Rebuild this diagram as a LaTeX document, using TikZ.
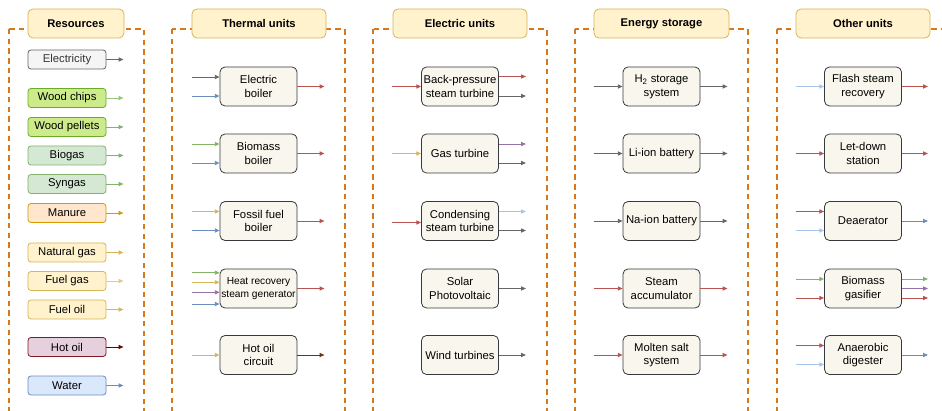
\documentclass[tikz,border=0pt]{standalone}
\usepackage{fontspec}
\setmainfont{Liberation Sans}
\usetikzlibrary{arrows.meta}

% palette
\definecolor{grpline}{HTML}{D9771A}
\definecolor{hdrfill}{HTML}{FFF2CC}
\definecolor{hdrline}{HTML}{D6B656}
\definecolor{unitfill}{HTML}{F9F7ED}
\definecolor{unitline}{HTML}{36393D}
\definecolor{cgray}{HTML}{666666}
\definecolor{cgrayfill}{HTML}{F5F5F5}
\definecolor{cwoodfill}{HTML}{CDEB8B}
\definecolor{cwoodline}{HTML}{6AAB2A}
\definecolor{cwoodarr}{HTML}{97C77A}
\definecolor{cgreenfill}{HTML}{D5E8D4}
\definecolor{cgreen}{HTML}{82B366}
\definecolor{cmanfill}{HTML}{FFE6CC}
\definecolor{cman}{HTML}{D79B00}
\definecolor{cyellow}{HTML}{D6B656}
\definecolor{cyellowlt}{HTML}{E2CB84}
\definecolor{coilfill}{HTML}{E6D0DE}
\definecolor{coilline}{HTML}{7A1A24}
\definecolor{coil}{HTML}{6F0000}
\definecolor{cwaterfill}{HTML}{DAE8FC}
\definecolor{cblue}{HTML}{6C8EBF}
\definecolor{clblue}{HTML}{A9C4EB}
\definecolor{cred}{HTML}{B85450}
\definecolor{cpurple}{HTML}{9673A6}
\definecolor{cbrown}{HTML}{6B3510}

\tikzset{
  grp/.style={draw=grpline, line width=1.8pt, dash pattern=on 5.5pt off 4.2pt},
  hdr/.style={draw=hdrline, fill=hdrfill, rounded corners=5pt, line width=0.8pt,
    minimum height=29pt, inner sep=0pt, font=\bfseries\fontsize{11.2}{13}\selectfont},
  unit/.style={draw=unitline, fill=unitfill, rounded corners=5pt, line width=0.8pt,
    minimum width=77pt, minimum height=39pt, inner sep=0.5pt, align=center,
    font=\fontsize{11.3}{13.8}\selectfont},
  res/.style={rounded corners=3pt, line width=0.8pt, minimum width=78pt,
    minimum height=19pt, inner sep=0pt, font=\fontsize{11.3}{13}\selectfont},
  flow/.style={line width=0.9pt, -{Triangle[length=4.8pt,width=4.2pt]}},
}

% input arrow: colour, node, vertical shift (pt, up positive), length
\newcommand\feedin[4]{\draw[flow,#1] ([yshift=#3pt]#2.west) ++(-#4,0) -- ([yshift=#3pt]#2.west);}
% output arrow: colour, node, vertical shift, length
\newcommand\feedout[4]{\draw[flow,#1] ([yshift=#3pt]#2.east) -- ++(#4,0);}

\begin{document}
\begin{tikzpicture}[x=1pt,y=-1pt]
\clip (0,0) rectangle (942,411);
\fill[white] (0,0) rectangle (942,411);

% group frames
\draw[grp] (9,29) rectangle (144,440);
\draw[grp] (172,29) rectangle (345,440);
\draw[grp] (373,29) rectangle (547,440);
\draw[grp] (575,29) rectangle (748,440);
\draw[grp] (777,29) rectangle (960,440);

% group headers
\node[hdr, minimum width=96pt]  (hres)  at (76,23.5)   {Resources};
\node[hdr, minimum width=134pt] (hth)   at (259,23.5)  {Thermal units};
\node[hdr, minimum width=134pt] (hel)   at (460,23.5)  {Electric units};
\node[hdr, minimum width=135pt] (hst)   at (661.5,23.5){Energy storage};
\node[hdr, minimum width=134pt] (hot)   at (863,23.5)  {Other units};

% resources
\node[res, draw=cgray, fill=cgrayfill, text=black!80] (elec) at (67,59.5) {Electricity};
\node[res, draw=cwoodline, fill=cwoodfill] (wchip) at (67,98) {Wood chips};
\node[res, draw=cwoodline, fill=cwoodfill] (wpel)  at (67,127) {Wood pellets};
\node[res, draw=cgreen, fill=cgreenfill] (biogas) at (67,155.5) {Biogas};
\node[res, draw=cgreen, fill=cgreenfill] (syngas) at (67,184) {Syngas};
\node[res, draw=cman, fill=cmanfill] (manure) at (67,213) {Manure};
\node[res, draw=cyellow, fill=hdrfill] (ngas) at (67,252.5) {Natural gas};
\node[res, draw=cyellow, fill=hdrfill] (fgas) at (67,281) {Fuel gas};
\node[res, draw=cyellow, fill=hdrfill] (foil) at (67,309.5) {Fuel oil};
\node[res, draw=coilline, fill=coilfill] (hoil) at (67,347) {Hot oil};
\node[res, draw=cblue, fill=cwaterfill] (water) at (67,385.5) {Water};

\feedout{cgray}{elec}{0}{17}
\feedout{cwoodarr}{wchip}{0}{17}
\feedout{cgreen}{wpel}{0}{17}
\feedout{cgreen}{biogas}{0}{17}
\feedout{cgreen}{syngas}{0}{17}
\feedout{cman}{manure}{0}{17}
\feedout{cyellow}{ngas}{0}{17}
\feedout{cyellowlt}{fgas}{0}{17}
\feedout{cyellow}{foil}{0}{17}
\feedout{coil}{hoil}{0}{17}
\feedout{cblue}{water}{0}{17}

% thermal units
\node[unit] (eboil) at (258.5,86.5)  {Electric\\boiler};
\node[unit] (bboil) at (258.5,153.5) {Biomass\\boiler};
\node[unit] (fboil) at (258.5,221)   {Fossil fuel\\boiler};
\node[unit, font=\fontsize{10.2}{12.8}\selectfont] (hrsg) at (258.5,288.5) {Heat recovery\\steam generator};
\node[unit] (hoc)   at (258.5,355)   {Hot oil\\circuit};

\feedin{cgray}{eboil}{9.5}{28}
\feedin{cblue}{eboil}{-9.5}{28}
\feedout{cred}{eboil}{0}{27}
\feedin{cgreen}{bboil}{9.5}{28}
\feedin{cblue}{bboil}{-9.5}{28}
\feedout{cred}{bboil}{0}{27}
\feedin{cyellow}{fboil}{9.5}{28}
\feedin{cblue}{fboil}{-9.5}{28}
\feedout{cred}{fboil}{0}{27}
\feedin{cgreen}{hrsg}{15.8}{28}
\feedin{cyellow}{hrsg}{6.2}{28}
\feedin{cpurple}{hrsg}{-3.8}{28}
\feedin{cblue}{hrsg}{-15.5}{28}
\feedout{cred}{hrsg}{0}{27}
\feedin{cyellow}{hoc}{0}{28}
\feedout{cbrown}{hoc}{0}{27}

% electric units
\node[unit] (bpst) at (460,86.5)  {Back-pressure\\steam turbine};
\node[unit] (gt)   at (460,153.5) {Gas turbine};
\node[unit] (cst)  at (460,221)   {Condensing\\steam turbine};
\node[unit] (pv)   at (460,288.5) {Solar\\Photovoltaic};
\node[unit] (wt)   at (460,355)   {Wind turbines};

\feedin{cred}{bpst}{0}{29}
\feedout{cred}{bpst}{10}{27}
\feedout{cgray}{bpst}{-9.5}{27}
\feedin{cyellow}{gt}{0}{29}
\feedout{cpurple}{gt}{9.5}{27}
\feedout{cgray}{gt}{-9.5}{27}
\feedin{cred}{cst}{-1.5}{29}
\feedout{clblue}{cst}{9.5}{27}
\feedout{cgray}{cst}{-9.5}{27}
\feedout{cgray}{pv}{0}{27}
\feedout{cgray}{wt}{0}{27}

% energy storage
\node[unit] (h2)   at (661.5,86.5)  {H\textsubscript{2} storage\\system};
\node[unit] (li)   at (661.5,153.5) {Li-ion battery};
\node[unit] (na)   at (661.5,221)   {Na-ion battery};
\node[unit] (sacc) at (661.5,288.5) {Steam\\accumulator};
\node[unit] (msalt) at (661.5,355)  {Molten salt\\system};

\feedin{cgray}{h2}{0}{29}
\feedout{cgray}{h2}{0}{27}
\feedin{cgray}{li}{0}{29}
\feedout{cgray}{li}{0}{27}
\feedin{cgray}{na}{0}{29}
\feedout{cgray}{na}{0}{27}
\feedin{cred}{sacc}{0}{29}
\feedout{cred}{sacc}{0}{27}
\feedin{cred}{msalt}{0}{29}
\feedout{cred}{msalt}{0}{27}

% other units
\node[unit] (flash) at (863,86.5)  {Flash steam\\recovery};
\node[unit] (letd)  at (863,153.5) {Let-down\\station};
\node[unit] (deae)  at (863,221)   {Deaerator};
\node[unit] (bgas)  at (863,288.5) {Biomass\\gasifier};
\node[unit] (anae)  at (863,355)   {Anaerobic\\digester};

\feedin{clblue}{flash}{0}{28}
\feedout{cred}{flash}{0}{26}
\feedin{cred}{letd}{0}{28}
\feedout{cred}{letd}{0}{26}
\feedin{cred}{deae}{9.5}{28}
\feedin{clblue}{deae}{-9.5}{28}
\feedout{cblue}{deae}{0}{26}
\feedin{cgreen}{bgas}{9.5}{28}
\feedin{cred}{bgas}{-9.5}{28}
\feedout{cgreen}{bgas}{9.5}{26}
\feedout{cpurple}{bgas}{0}{26}
\feedout{cred}{bgas}{-9.5}{26}
\feedin{cred}{anae}{9.5}{28}
\feedin{clblue}{anae}{-9.5}{28}
\feedout{cblue}{anae}{0}{26}
\end{tikzpicture}
\end{document}
